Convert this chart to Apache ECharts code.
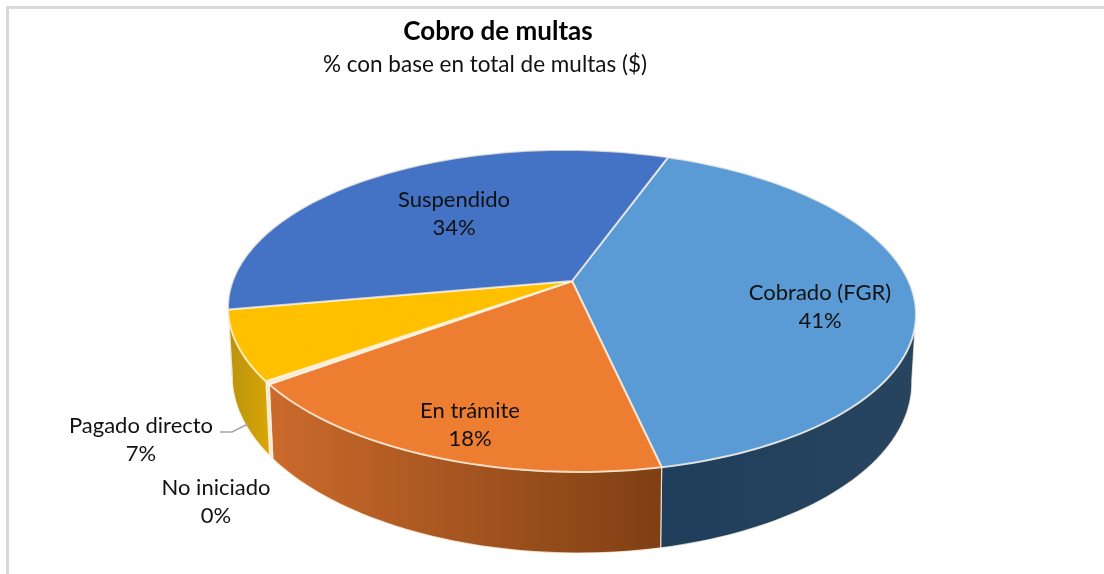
<!DOCTYPE html>
<html>
<head>
<meta charset="utf-8">
<title>Cobro de multas</title>
<script src="https://cdn.jsdelivr.net/npm/echarts@6/dist/echarts.min.js"></script>
<style>
html, body { margin: 0; padding: 0; background: #fff; }
#chart { width: 1104px; height: 574px; }
</style>
</head>
<body>
<div id="chart"></div>
<script>
const categories = ['Cobrado (FGR)', 'En trámite', 'No iniciado', 'Pagado directo', 'Suspendido']
const shares = [41.1, 18.1, 0.3, 6.9, 33.6] // % estimados del grafico, las etiquetas redondean

const topColors = ['#5B9BD5', '#ED7D31', '#FBE9D6', '#FFC000', '#4472C4']
const wallColors = [
  ['#1F3E5C', '#27455F'],
  ['#CB6A2B', '#7E3F14'],
  ['#F5EBD4', '#F5EBD4'],
  ['#B8920F', '#D9A606'],
  ['#2F5597', '#2F5597']
]
// centro de cada etiqueta en px
const labelCenters = [[820, 307], [470, 425], [216, 502], [141, 440], [454, 214]]

// perspectiva del pastel
const apex = [572, 281]
const radiusX = 338
const radiusY = 155.4
const persp = 0.186
const tilt = 0.01
const wallHeight = 66
const startDeg = 19.5

const rad = d => d * Math.PI / 180

// proyecta un punto del borde, level 0 = cara superior, 1 = base
function rim (deg, level) {
  const s = Math.sin(rad(deg))
  const c = Math.cos(rad(deg))
  const w = 1 + persp * c
  const x = radiusX * s / w * (1 - 0.012 * level)
  const y = (-radiusY * c + wallHeight * level) / w
  return [apex[0] + x, apex[1] + y + tilt * x]
}

function arcPoints (a, b, level) {
  const pts = []
  const n = Math.max(1, Math.ceil(Math.abs(b - a) / 1.5))
  for (let i = 0; i <= n; i++) pts.push(rim(a + (b - a) * i / n, level))
  return pts
}

const total = shares.reduce((a, b) => a + b, 0)
let acc = startDeg
const sliceData = shares.map((v, i) => {
  const from = acc
  acc += v / total * 360
  return [from, acc, i]
})

// solo se ve la pared entre los dos extremos laterales
const wallFrom = 100
const wallTo = 260

function renderWall (params, api) {
  const i = api.value(2)
  const a = Math.max(api.value(0), wallFrom)
  const b = Math.min(api.value(1), wallTo)
  if (b <= a) return { type: 'group', children: [] }
  const pts = arcPoints(a, b, 0).concat(arcPoints(b, a, 1))
  return {
    type: 'polygon',
    shape: { points: pts },
    style: {
      fill: new echarts.graphic.LinearGradient(0, 0, 1, 0, [
        { offset: 0, color: wallColors[i][0] },
        { offset: 1, color: wallColors[i][1] }
      ]),
      stroke: 'rgba(255,244,225,0.75)',
      lineWidth: 1.2
    }
  }
}

function renderTop (params, api) {
  const i = api.value(2)
  const pts = [apex].concat(arcPoints(api.value(0), api.value(1), 0))
  return {
    type: 'polygon',
    shape: { points: pts },
    style: {
      fill: topColors[i],
      stroke: 'rgba(255,246,232,0.72)',
      lineWidth: 2,
      lineJoin: 'round'
    }
  }
}

function renderLabel (params, api) {
  const i = api.value(2)
  const children = [{
    type: 'text',
    style: {
      x: labelCenters[i][0],
      y: labelCenters[i][1],
      text: categories[i] + '\n' + Math.round(shares[i]) + '%',
      fill: '#111',
      font: '22px Lato',
      lineHeight: 28.5,
      align: 'center',
      verticalAlign: 'middle'
    }
  }]
  // linea guia de Pagado directo
  if (categories[i] === 'Pagado directo') {
    const cx = labelCenters[i][0]
    children.push({
      type: 'polyline',
      shape: { points: [[cx + 79, 432], [cx + 91, 432], [cx + 107, 424]] },
      style: { stroke: '#A6A6A6', lineWidth: 1.5, fill: null }
    })
  }
  return { type: 'group', children: children }
}

const chart = echarts.init(document.getElementById('chart'))
chart.setOption({
  animation: false,
  backgroundColor: '#fff',
  title: [
    {
      text: 'Cobro de multas',
      left: 493,
      top: 14,
      textAlign: 'center',
      textStyle: { fontFamily: 'Lato', fontWeight: 'bold', fontSize: 26, color: '#000' }
    },
    {
      text: '% con base en total de multas ($)',
      left: 480,
      top: 48,
      textAlign: 'center',
      textStyle: { fontFamily: 'Lato', fontWeight: 'normal', fontSize: 22.5, color: '#111' }
    }
  ],
  graphic: [
    {
      type: 'polyline',
      shape: { points: [[7.5, 574], [7.5, 7.5], [1104, 7.5]] },
      style: { stroke: '#DADADA', lineWidth: 3, fill: null }
    }
  ],
  series: [
    { type: 'custom', coordinateSystem: 'none', renderItem: renderWall, data: sliceData, z: 1, silent: true },
    { type: 'custom', coordinateSystem: 'none', renderItem: renderTop, data: sliceData, z: 2, silent: true },
    { type: 'custom', coordinateSystem: 'none', renderItem: renderLabel, data: sliceData, z: 3, silent: true }
  ]
})
</script>
</body>
</html>
